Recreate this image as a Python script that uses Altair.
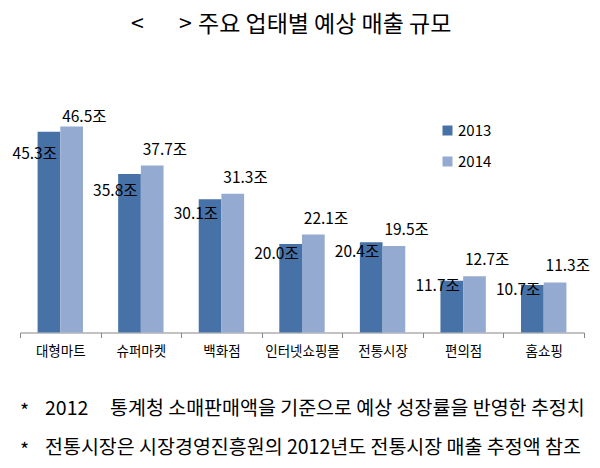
import altair as alt
import pandas as pd

categories = ["대형마트", "슈퍼마켓", "백화점", "인터넷쇼핑몰", "전통시장", "편의점", "홈쇼핑"]
years = ["2013", "2014"]
v2013 = [45.3, 35.8, 30.1, 20.0, 20.4, 11.7, 10.7]
v2014 = [46.5, 37.7, 31.3, 22.1, 19.5, 12.7, 11.3]

title_open = "<"
title_close = ">"
title_text = "주요 업태별 예상 매출 규모"
note1_year = "2012"
note1_text = "통계청 소매판매액을 기준으로 예상 성장률을 반영한 추정치"
note2_text = "전통시장은 시장경영진흥원의 2012년도 전통시장 매출 추정액 참조"

rows = []
for c, a, b in zip(categories, v2013, v2014):
    rows.append({"cat": c, "year": "2013", "value": a, "label": f"{a:.1f}조"})
    rows.append({"cat": c, "year": "2014", "value": b, "label": f"{b:.1f}조"})
df = pd.DataFrame(rows)

FONT = "Noto Sans CJK KR"
C1, C2 = "#4672A8", "#95AAD1"
W, H = 564, 221.5

xenc = alt.X("cat:N", sort=categories,
             scale=alt.Scale(paddingInner=0, paddingOuter=0),
             axis=alt.Axis(title=None, labelAngle=0, labelFontSize=13.5, labelColor="#000000",
                           labelFont=FONT, domainColor="#868686", tickColor="#868686",
                           tickSize=5, tickBand="extent", labelPadding=7, grid=False))
xoff = alt.XOffset("year:N", sort=years, scale=alt.Scale(paddingOuter=0.775, paddingInner=0))
yscale = alt.Scale(domain=[0, 50])

base = alt.Chart(df)

bars = base.mark_bar().encode(
    x=xenc, xOffset=xoff,
    y=alt.Y("value:Q", scale=yscale, axis=None),
    color=alt.Color("year:N", scale=alt.Scale(domain=years, range=[C1, C2]),
                    legend=alt.Legend(title=None, orient="none", legendX=420, legendY=12,
                                      symbolType="square", symbolSize=100, symbolStrokeWidth=0,
                                      labelFontSize=15, labelFont=FONT, labelColor="#000000",
                                      labelOffset=3, rowPadding=15, padding=0)),
)

lab13 = base.transform_filter(alt.datum.year == "2013").transform_calculate(
    ly="datum.value * 0.89"
).mark_text(align="right", baseline="middle", dx=8, fontSize=15.5, font=FONT, color="#000000").encode(
    x=xenc, xOffset=xoff,
    y=alt.Y("ly:Q", scale=yscale, axis=None),
    text="label:N",
)

lab14 = base.transform_filter(alt.datum.year == "2014").transform_calculate(
    ly="min(datum.value + 3.6, 48.6)"
).mark_text(align="left", baseline="middle", dx=-9.5, fontSize=15.5, font=FONT, color="#000000").encode(
    x=xenc, xOffset=xoff,
    y=alt.Y("ly:Q", scale=yscale, axis=None),
    text="label:N",
)

def txt(s, x, y, size, align="left"):
    return alt.Chart(pd.DataFrame({"t": [s]})).mark_text(
        align=align, baseline="middle", x=x, y=y, fontSize=size, font=FONT, color="#000000"
    ).encode(text="t:N")

texts = [
    txt(title_open, 111, -86, 23),
    txt(title_close, 159, -86, 23),
    txt(title_text, 178, -86, 23),
    txt("*", 0, 301, 19.5),
    txt(note1_year, 25, 298, 19.5),
    txt(note1_text, 90, 298, 19.5),
    txt("*", 0, 340, 19.5),
    txt(note2_text, 25, 337, 19.5),
]

chart = alt.layer(bars, lab13, lab14, *texts).properties(
    width=W, height=H,
    padding={"left": 12, "top": 103, "right": 8, "bottom": 131},
    autosize=alt.AutoSizeParams(type="none"),
).configure_view(stroke=None)

chart.save("out.html", embed_options={"renderer": "svg", "actions": False})
